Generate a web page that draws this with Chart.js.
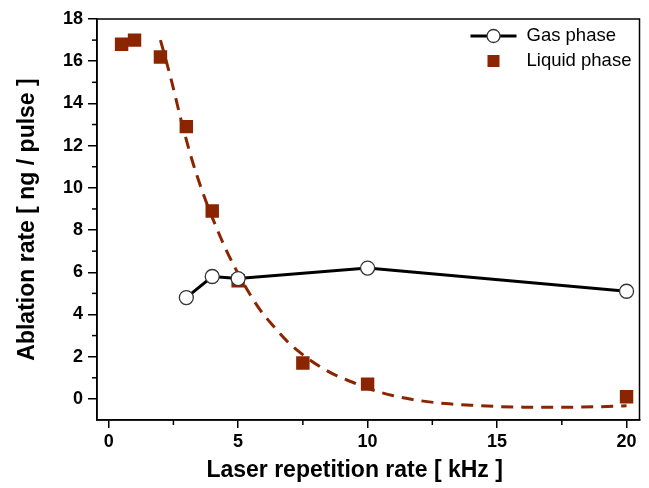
<!DOCTYPE html>
<html>
<head>
<meta charset="utf-8">
<script src="https://cdn.jsdelivr.net/npm/chart.js@4.4.1/dist/chart.umd.min.js"></script>
<style>
  html, body { margin: 0; padding: 0; background: #fff; }
  #wrap { width: 649px; height: 488px; }
</style>
</head>
<body>
<div id="wrap"><canvas id="myChart" width="649" height="488"></canvas></div>
<script>
// gas phase (open circles, solid line)
const gasX = [3, 4, 5, 10, 20];
const gasY = [4.8, 5.8, 5.7, 6.2, 5.1];

// liquid phase (filled squares)
const liquidX = [0.5, 1, 2, 3, 4, 5, 7.5, 10, 20];
const liquidY = [16.8, 17.0, 16.2, 12.9, 8.9, 5.6, 1.7, 0.7, 0.1];

// dashed fit curve
const fitX = [2.0, 2.4, 2.8, 3.2, 3.6, 4.0, 4.6, 5.2, 5.8, 6.4, 7.0, 7.6, 8.2, 8.8, 9.4, 10, 11, 12, 13, 14, 15, 16, 17, 18, 19, 20];
const fitY = [17.0, 15.2, 13.2, 11.4, 9.9, 8.6, 6.9, 5.5, 4.3, 3.4, 2.6, 2.0, 1.5, 1.1, 0.8, 0.5, 0.15, -0.08, -0.22, -0.3, -0.36, -0.39, -0.4, -0.39, -0.37, -0.33];

const xTicks = [0, 5, 10, 15, 20];
const xMinor = [2.5, 7.5, 12.5, 17.5];
const yTicks = [0, 2, 4, 6, 8, 10, 12, 14, 16, 18];
const yMinor = [1, 3, 5, 7, 9, 11, 13, 15, 17];

const xTitle = 'Laser repetition rate [ kHz ]';
const yTitle = 'Ablation rate [ ng / pulse ]';

const red = '#8b2500';
const fam = '"Liberation Sans", Arial, sans-serif';
const pts = (xs, ys) => xs.map((x, i) => ({ x: x, y: ys[i] }));

// frame, minor ticks, axis titles and legend
const extras = {
    id: 'extras',
    afterDraw(chart) {
        const ctx = chart.ctx;
        const a = chart.chartArea;
        const sx = chart.scales.x, sy = chart.scales.y;
        ctx.save();
        ctx.strokeStyle = '#000';
        ctx.lineWidth = 1.5;
        ctx.strokeRect(a.left, a.top, a.right - a.left, a.bottom - a.top);
        xMinor.forEach(v => {
            const p = sx.getPixelForValue(v);
            ctx.beginPath(); ctx.moveTo(p, a.bottom); ctx.lineTo(p, a.bottom + 5); ctx.stroke();
        });
        yMinor.forEach(v => {
            const p = sy.getPixelForValue(v);
            ctx.beginPath(); ctx.moveTo(a.left, p); ctx.lineTo(a.left - 5, p); ctx.stroke();
        });

        // axis titles
        ctx.fillStyle = '#000';
        ctx.font = 'bold 23px ' + fam;
        ctx.textAlign = 'center';
        ctx.textBaseline = 'middle';
        ctx.fillText(xTitle, sx.getPixelForValue(9.5), 471);
        ctx.save();
        ctx.translate(28, (a.top + a.bottom) / 2);
        ctx.rotate(-Math.PI / 2);
        ctx.fillText(yTitle, 0, 0);
        ctx.restore();

        // legend
        ctx.font = '18.5px ' + fam;
        ctx.textAlign = 'left';
        const sym = a.right - 146, tx = a.right - 113;
        let row = a.top + 17;
        ctx.strokeStyle = '#000';
        ctx.lineWidth = 3;
        ctx.beginPath(); ctx.moveTo(sym - 23, row); ctx.lineTo(sym + 23, row); ctx.stroke();
        ctx.beginPath(); ctx.arc(sym, row, 6.5, 0, Math.PI * 2);
        ctx.fillStyle = '#fff'; ctx.fill();
        ctx.lineWidth = 1.3; ctx.strokeStyle = '#333'; ctx.stroke();
        ctx.fillStyle = '#000';
        ctx.fillText(chart.data.datasets[0].label, tx, row);
        row += 25;
        ctx.fillStyle = red;
        ctx.fillRect(sym - 6, row - 6, 12, 12);
        ctx.fillStyle = '#000';
        ctx.fillText(chart.data.datasets[1].label, tx, row);
        ctx.restore();
    }
};

const ctx = document.getElementById('myChart').getContext('2d');
const myChart = new Chart(ctx, {
    type: 'scatter',
    data: {
        datasets: [{
            label: 'Gas phase',
            data: pts(gasX, gasY),
            showLine: true,
            borderColor: '#000',
            borderWidth: 3,
            pointStyle: 'circle',
            pointRadius: 7,
            pointBorderWidth: 1.3,
            pointBorderColor: '#333',
            pointBackgroundColor: '#fff',
            order: 0
        }, {
            label: 'Liquid phase',
            data: pts(liquidX, liquidY),
            pointStyle: 'rect',
            pointRadius: 9.5,
            pointBorderWidth: 0,
            backgroundColor: red,
            borderColor: red,
            order: 2
        }, {
            label: 'fit',
            data: pts(fitX, fitY),
            showLine: true,
            borderColor: red,
            borderWidth: 3,
            borderDash: [12, 8],
            cubicInterpolationMode: 'monotone',
            pointRadius: 0,
            order: 1
        }]
    },
    options: {
        responsive: false,
        animation: false,
        layout: { padding: { top: 19, right: 8, left: 0, bottom: 0 } },
        plugins: { legend: { display: false }, tooltip: { enabled: false } },
        scales: {
            x: {
                type: 'linear',
                min: -0.45,
                max: 20.5,
                afterBuildTicks: s => { s.ticks = xTicks.map(v => ({ value: v })); },
                afterFit: s => { s.height = 68; },
                grid: { drawOnChartArea: false, drawTicks: true, tickLength: 8, color: '#000', lineWidth: 1.5 },
                border: { display: true, color: '#000', width: 1.5 },
                ticks: {
                    color: '#000',
                    padding: 3,
                    maxRotation: 0,
                    font: { family: fam, size: 18, weight: 'bold' }
                }
            },
            y: {
                min: -1,
                max: 18,
                afterBuildTicks: s => { s.ticks = yTicks.map(v => ({ value: v })); },
                afterFit: s => { s.width = 97; },
                grid: { drawOnChartArea: false, drawTicks: true, tickLength: 9, color: '#000', lineWidth: 1.5 },
                border: { display: true, color: '#000', width: 1.5 },
                ticks: {
                    color: '#000',
                    padding: 5,
                    font: { family: fam, size: 18, weight: 'bold' }
                }
            }
        }
    },
    plugins: [extras]
});
</script>
</body>
</html>
